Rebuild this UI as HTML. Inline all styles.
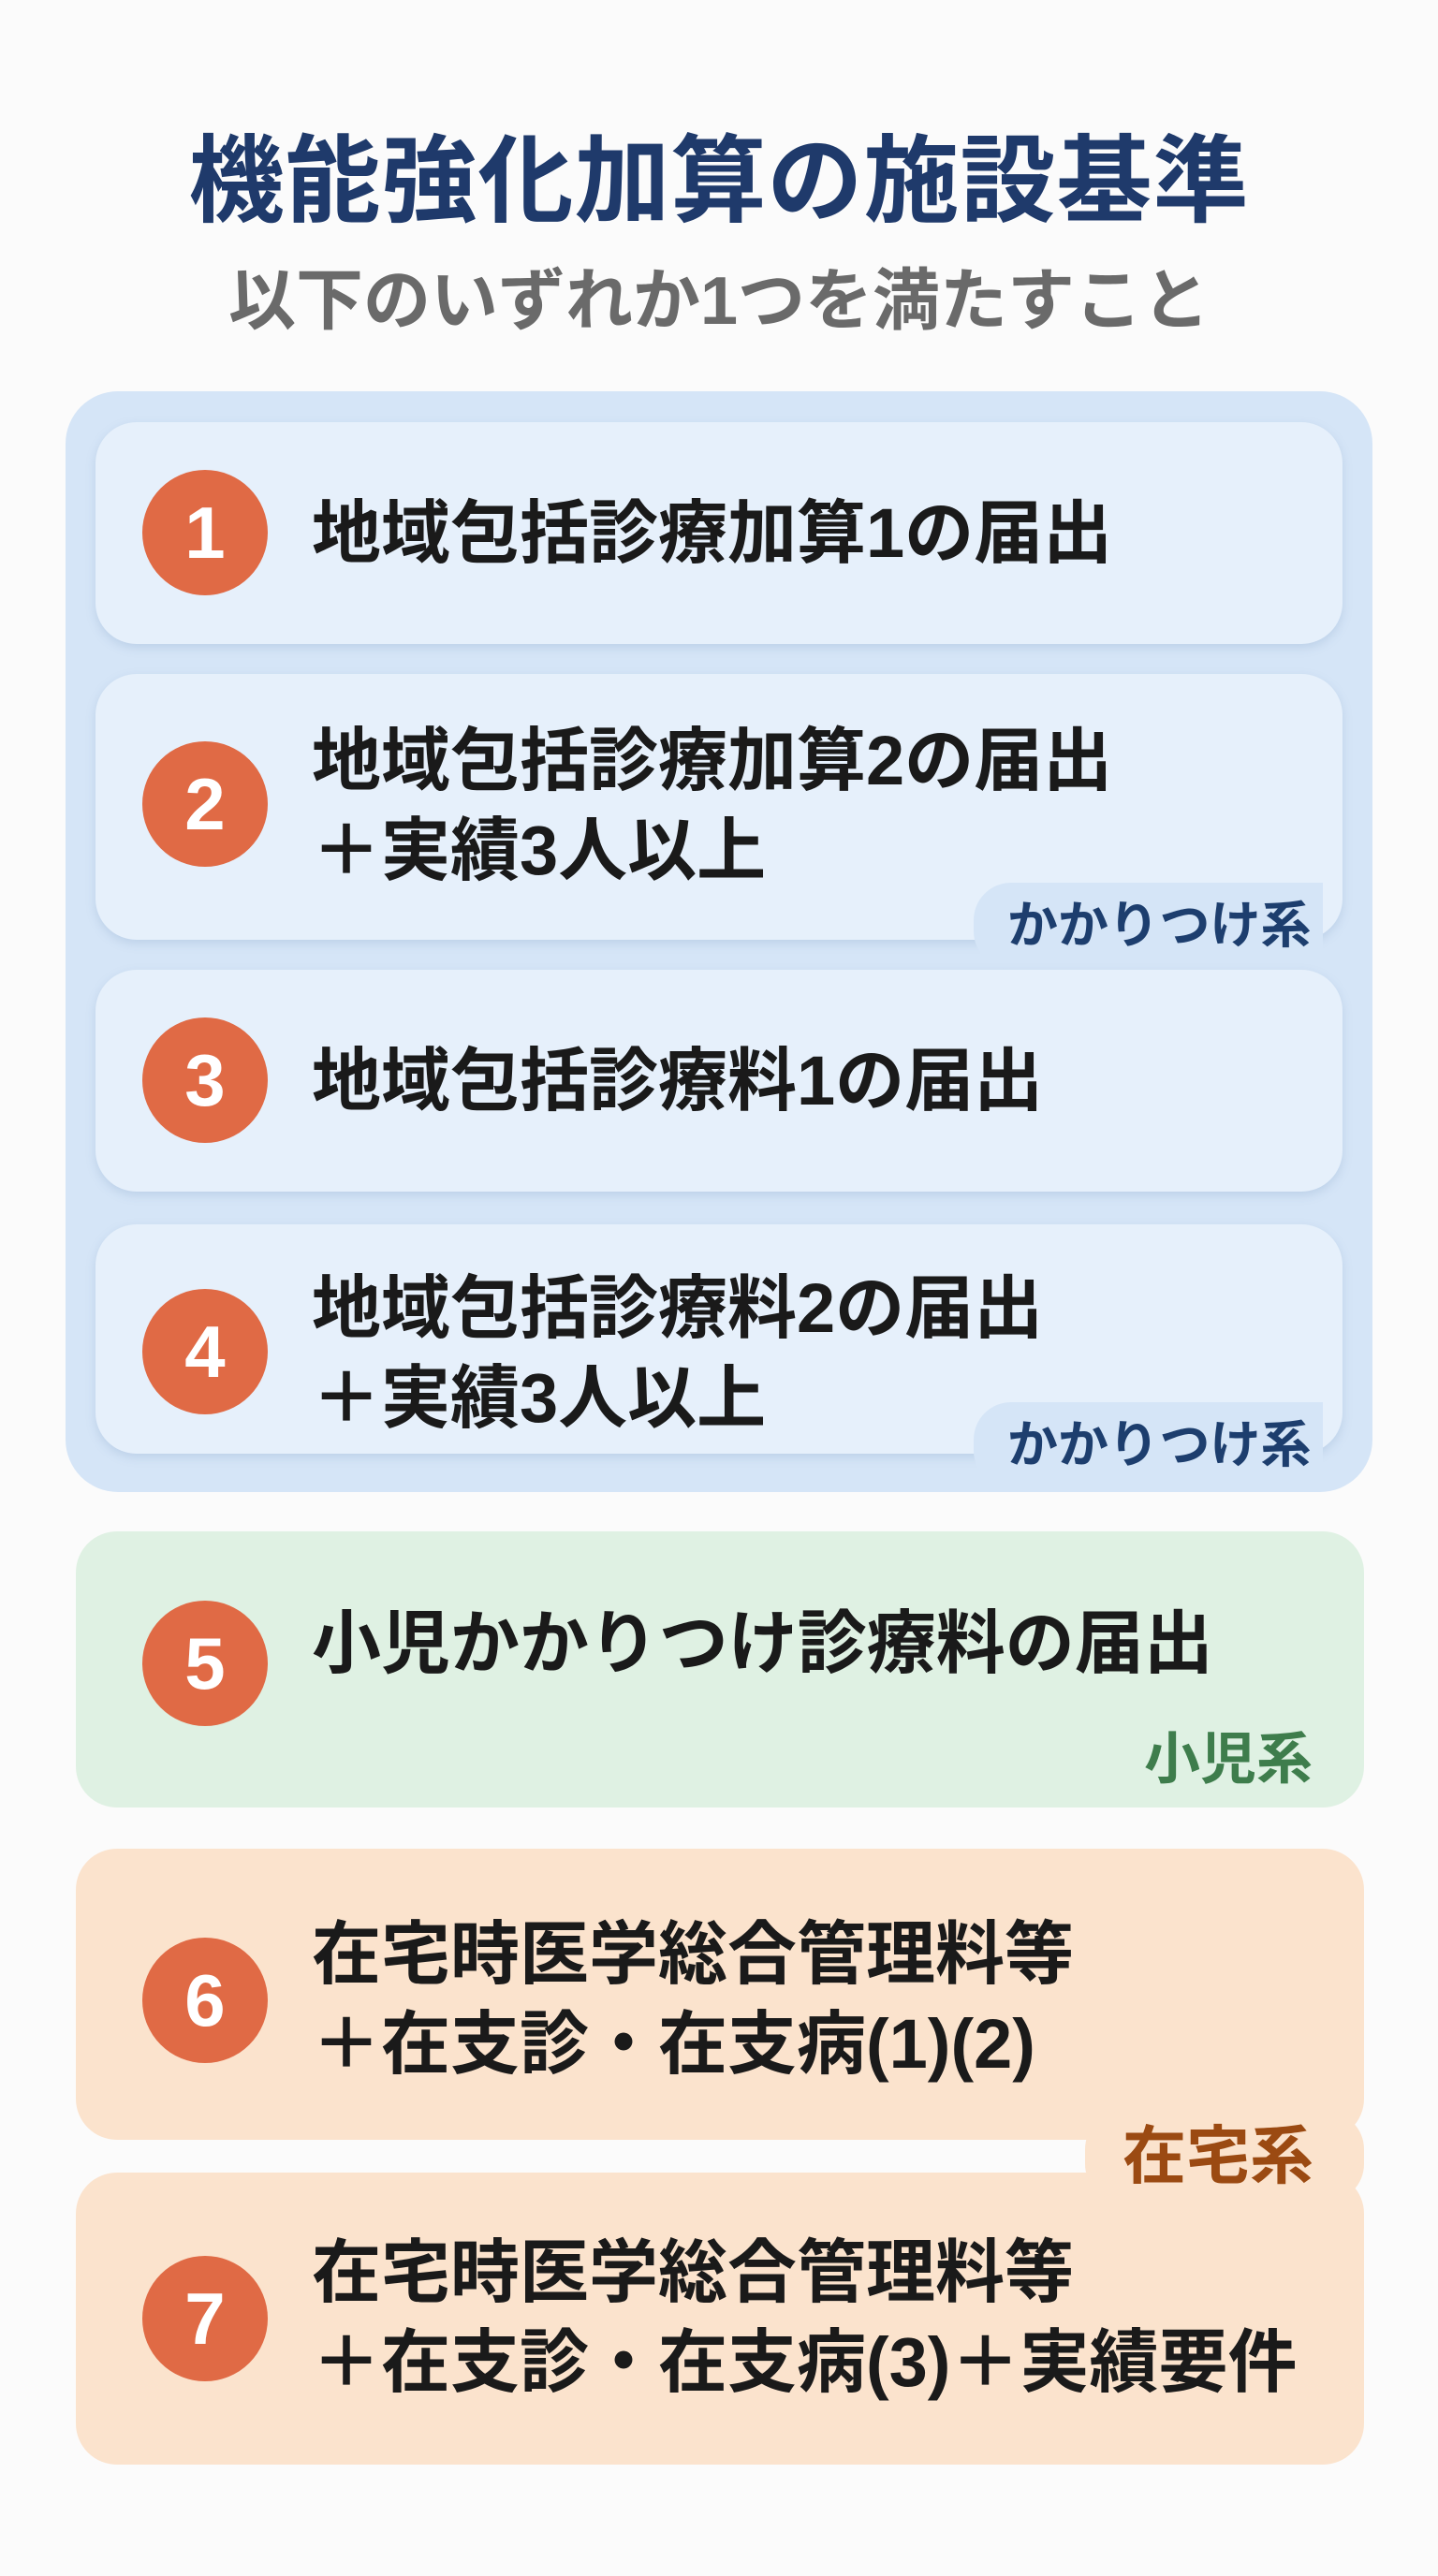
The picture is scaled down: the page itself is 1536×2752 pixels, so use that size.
<!DOCTYPE html>
<html><head><meta charset="utf-8"><style>
*{margin:0;padding:0;box-sizing:border-box}
body{width:1536px;height:2752px;background:#fbfbfb;position:relative;overflow:hidden;font-family:"Liberation Sans","Noto Sans CJK JP",sans-serif}
.a{position:absolute}
.title{left:0;width:1536px;text-align:center;top:112px;font-size:102px;font-weight:bold;color:#1f3a6b;letter-spacing:1px}
.sub{left:0;width:1536px;text-align:center;top:262px;font-size:72px;font-weight:bold;color:#6a6a6a}
.card{border-radius:44px}
.blue{background:#e6f0fb;box-shadow:0 4px 10px rgba(120,150,190,.25)}
.c{position:absolute;width:134px;height:134px;border-radius:50%;background:#e06a45;color:#fff;font-size:78px;font-weight:bold;text-align:center;line-height:134px}
.t{position:absolute;left:333px;font-size:74px;font-weight:bold;color:#1a1a1a;line-height:96px;white-space:nowrap}
.tag{position:absolute;font-weight:bold;border-radius:40px 0 0 40px;white-space:nowrap}
</style></head><body>
<div class="a title">機能強化加算の施設基準</div>
<div class="a sub">以下のいずれか1つを満たすこと</div>

<div class="a card" style="left:70px;top:418px;width:1396px;height:1176px;background:#d5e5f7;border-radius:56px"></div>

<div class="a card blue" style="left:102px;top:451px;width:1332px;height:237px"></div>
<div class="c" style="left:152px;top:502px">1</div>
<div class="t" style="top:522px">地域包括診療加算1の届出</div>

<div class="a card blue" style="left:102px;top:720px;width:1332px;height:284px"></div>
<div class="c" style="left:152px;top:792px">2</div>
<div class="t" style="top:765px">地域包括診療加算2の届出<br>＋実績3人以上</div>
<div class="tag" style="left:1040px;top:943px;width:373px;height:92px;background:#d5e5f7;color:#1d3e6e;font-size:54px;line-height:92px;padding-left:36px">かかりつけ系</div>

<div class="a card blue" style="left:102px;top:1036px;width:1332px;height:237px"></div>
<div class="c" style="left:152px;top:1087px">3</div>
<div class="t" style="top:1107px">地域包括診療料1の届出</div>

<div class="a card blue" style="left:102px;top:1308px;width:1332px;height:245px"></div>
<div class="c" style="left:152px;top:1377px">4</div>
<div class="t" style="top:1350px">地域包括診療料2の届出<br>＋実績3人以上</div>
<div class="tag" style="left:1040px;top:1498px;width:373px;height:92px;background:#d5e5f7;color:#1d3e6e;font-size:54px;line-height:92px;padding-left:36px">かかりつけ系</div>

<div class="a card" style="left:81px;top:1636px;width:1376px;height:295px;background:#dff1e3"></div>
<div class="c" style="left:152px;top:1710px">5</div>
<div class="t" style="top:1708px">小児かかりつけ診療料の届出</div>
<div class="tag" style="left:1222px;top:1840px;width:200px;height:80px;color:#3e7d4c;font-size:60px;line-height:80px">小児系</div>

<div class="a card" style="left:81px;top:1975px;width:1376px;height:311px;background:#fbe3cd"></div>
<div class="c" style="left:152px;top:2070px">6</div>
<div class="t" style="top:2040px">在宅時医学総合管理料等<br>＋在支診・在支病(1)(2)</div>

<div class="a card" style="left:81px;top:2321px;width:1376px;height:312px;background:#fbe3cd"></div>
<div class="c" style="left:152px;top:2410px">7</div>
<div class="t" style="top:2380px">在宅時医学総合管理料等<br>＋在支診・在支病(3)＋実績要件</div>

<div class="tag" style="left:1159px;top:2256px;width:298px;height:96px;background:#fbe3cd;color:#9b4a12;font-size:68px;line-height:96px;padding-left:40px;border-radius:40px">在宅系</div>
</body></html>
